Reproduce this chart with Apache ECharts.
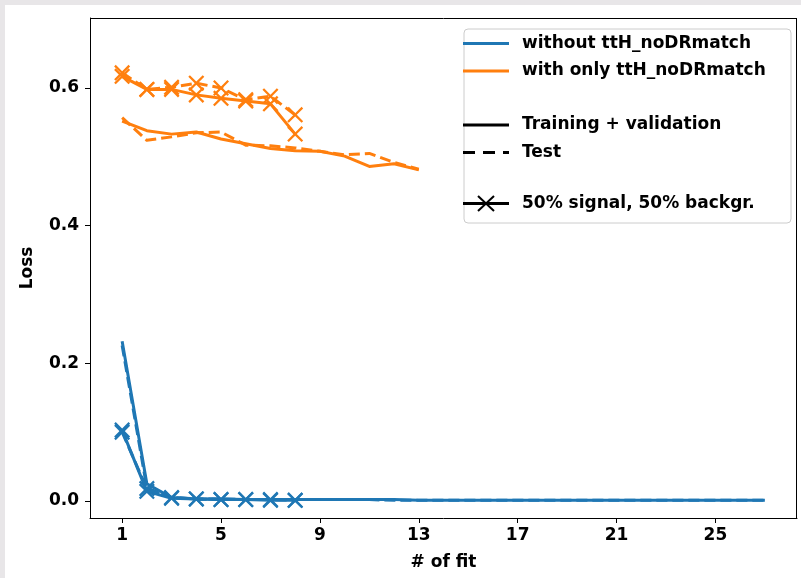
<!DOCTYPE html>
<html><head><meta charset="utf-8">
<script src="https://cdn.jsdelivr.net/npm/echarts@6/dist/echarts.min.js"></script>
<style>
html,body{margin:0;padding:0;background:#e8e6e8;width:801px;height:578px;overflow:hidden}
#c{position:absolute;left:5px;top:5px;width:796px;height:573px;background:#fff}
</style>
</head><body><div id="c"></div>
<script>
// ---- data ----
const xTicks = [1, 5, 9, 13, 17, 21, 25];
const yTicks = [0.0, 0.2, 0.4, 0.6];

const blueTrain = [0.232, 0.025, 0.005, 0.003, 0.003, 0.002, 0.002, 0.002, 0.002, 0.002, 0.002, 0.002, 0.001, 0.001, 0.001, 0.001, 0.001, 0.001, 0.001, 0.001, 0.001, 0.001, 0.001, 0.001, 0.001, 0.001, 0.001];
const blueTest  = [0.226, 0.019, 0.005, 0.003, 0.003, 0.002, 0.002, 0.002, 0.002, 0.002, 0.002, 0.001, 0.001, 0.001, 0.001, 0.001, 0.001, 0.001, 0.001, 0.001, 0.001, 0.001, 0.001, 0.001, 0.001, 0.001, 0.001];
const blueTrain50 = [0.103, 0.014, 0.004, 0.003, 0.002, 0.002, 0.001, 0.001];
const blueTest50  = [0.100, 0.018, 0.005, 0.003, 0.002, 0.002, 0.002, 0.001];

const orangeTrain = [0.552, 0.538, 0.533, 0.536, 0.526, 0.519, 0.512, 0.509, 0.508, 0.501, 0.486, 0.490, 0.481];
const orangeTest  = [0.557, 0.524, 0.529, 0.535, 0.536, 0.517, 0.516, 0.513, 0.508, 0.503, 0.505, 0.492, 0.482];
const orangeTrain50 = [0.617, 0.598, 0.598, 0.590, 0.585, 0.581, 0.577, 0.533];
const orangeTest50  = [0.622, 0.598, 0.601, 0.607, 0.600, 0.583, 0.588, 0.561];

const legendLabels = ['without ttH_noDRmatch', 'with only ttH_noDRmatch', 'Training + validation', 'Test', '50% signal, 50% backgr.'];

// ---- chart ----
const BLUE = '#1f77b4', ORANGE = '#ff7f0e';
const FONT = '"DejaVu Sans", sans-serif';
const FS = 17;
const a = 0.1;
const X_PATH = 'path://M0,' + a + 'L' + a + ',0L0.5,' + (0.5 - a) + 'L' + (1 - a) + ',0L1,' + a + 'L' + (0.5 + a) + ',0.5L1,' + (1 - a) + 'L' + (1 - a) + ',1L0.5,' + (0.5 + a) + 'L' + a + ',1L0,' + (1 - a) + 'L' + (0.5 - a) + ',0.5Z';

function pts(arr) { return arr.map((v, i) => [i + 1, v]); }
function mk(name, arr, color, dashed, marker) {
  return {
    name: name, type: 'line', data: pts(arr), animation: false,
    symbol: marker ? X_PATH : 'none', symbolSize: 16, showSymbol: !!marker,
    itemStyle: { color: color },
    lineStyle: { color: color, width: 3, type: dashed ? [11, 5] : 'solid', cap: 'butt', join: 'round' },
    emphasis: { disabled: true }, z: 3
  };
}

const chart = echarts.init(document.getElementById('c'), null, { renderer: 'canvas' });

const LX0 = 458, LX1 = 504, TX = 517;
const rows = [38.5, 66, 120, 147.5, 198.5];
const legendGraphics = [
  { type: 'rect', shape: { x: 459, y: 24, width: 327, height: 194, r: 4 }, style: { fill: 'rgba(255,255,255,0.8)', stroke: '#cccccc', lineWidth: 1 }, z: 10 },
  { type: 'line', shape: { x1: LX0, y1: rows[0], x2: LX1, y2: rows[0] }, style: { stroke: BLUE, lineWidth: 3 }, z: 11 },
  { type: 'line', shape: { x1: LX0, y1: rows[1], x2: LX1, y2: rows[1] }, style: { stroke: ORANGE, lineWidth: 3 }, z: 11 },
  { type: 'line', shape: { x1: LX0, y1: rows[2], x2: LX1, y2: rows[2] }, style: { stroke: '#000', lineWidth: 3 }, z: 11 },
  { type: 'line', shape: { x1: LX0, y1: rows[3], x2: LX1, y2: rows[3] }, style: { stroke: '#000', lineWidth: 3, lineDash: [12, 8] }, z: 11 },
  { type: 'line', shape: { x1: LX0, y1: rows[4], x2: LX1, y2: rows[4] }, style: { stroke: '#000', lineWidth: 3 }, z: 11 },
  { type: 'polyline', shape: { points: [[473, rows[4] - 7.5], [489, rows[4] + 7.5]] }, style: { stroke: '#000', lineWidth: 2 }, z: 11 },
  { type: 'polyline', shape: { points: [[489, rows[4] - 7.5], [473, rows[4] + 7.5]] }, style: { stroke: '#000', lineWidth: 2 }, z: 11 }
];
legendLabels.forEach((t, i) => {
  legendGraphics.push({ type: 'text', x: TX, y: rows[i], style: { text: t, fill: '#000', font: 'bold ' + FS + 'px ' + FONT, textVerticalAlign: 'middle', verticalAlign: 'middle' }, z: 11 });
});

chart.setOption({
  backgroundColor: '#fff',
  animation: false,
  grid: { left: 85, right: 4, top: 13, bottom: 60, containLabel: false, show: false },
  xAxis: {
    type: 'value', min: -0.3, max: 28.3,
    name: '# of fit', nameLocation: 'middle', nameGap: 36,
    nameTextStyle: { color: '#000', fontFamily: FONT, fontWeight: 'bold', fontSize: FS },
    axisLine: { show: true, onZero: false, lineStyle: { color: '#000', width: 1 } },
    axisTick: { show: true, length: 5, lineStyle: { color: '#000', width: 1 }, customValues: xTicks },
    axisLabel: { show: true, color: '#000', fontFamily: FONT, fontWeight: 'bold', fontSize: FS, margin: 9, customValues: xTicks, formatter: v => String(v) },
    splitLine: { show: false }
  },
  yAxis: {
    type: 'value', min: -0.0247, max: 0.7017,
    name: 'Loss', nameLocation: 'middle', nameGap: 54,
    nameTextStyle: { color: '#000', fontFamily: FONT, fontWeight: 'bold', fontSize: FS },
    axisLine: { show: true, onZero: false, lineStyle: { color: '#000', width: 1 } },
    axisTick: { show: true, length: 5, lineStyle: { color: '#000', width: 1 }, customValues: yTicks },
    axisLabel: { show: true, color: '#000', fontFamily: FONT, fontWeight: 'bold', fontSize: FS, margin: 11, customValues: yTicks, formatter: v => Number(v).toFixed(1) },
    splitLine: { show: false }
  },
  graphic: [
    { type: 'line', shape: { x1: 85, y1: 13.5, x2: 792, y2: 13.5 }, style: { stroke: '#000', lineWidth: 1 }, z: 5 },
    { type: 'line', shape: { x1: 791.5, y1: 13, x2: 791.5, y2: 513 }, style: { stroke: '#000', lineWidth: 1 }, z: 5 }
  ].concat(legendGraphics),
  series: [
    mk('blueTrain', blueTrain, BLUE, false, false),
    mk('blueTest', blueTest, BLUE, true, false),
    mk('blueTrain50', blueTrain50, BLUE, false, true),
    mk('blueTest50', blueTest50, BLUE, true, true),
    mk('orangeTrain', orangeTrain, ORANGE, false, false),
    mk('orangeTest', orangeTest, ORANGE, true, false),
    mk('orangeTrain50', orangeTrain50, ORANGE, false, true),
    mk('orangeTest50', orangeTest50, ORANGE, true, true)
  ]
});
</script>
</body></html>
